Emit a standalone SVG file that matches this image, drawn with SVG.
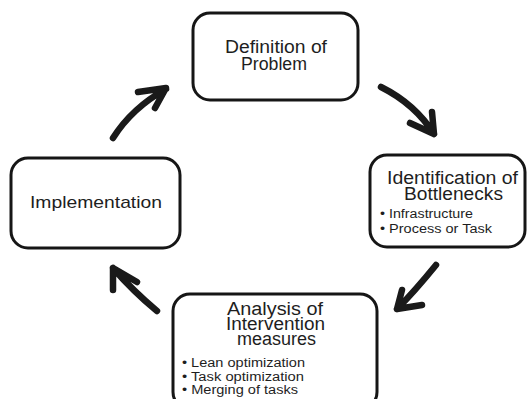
<svg xmlns="http://www.w3.org/2000/svg" width="528" height="399" viewBox="0 0 528 399">
<style>
.box{fill:#fff;stroke:#161616;stroke-width:3}
.t{font-family:"Liberation Sans",Arial,sans-serif;fill:#1e1e1e;text-anchor:middle;font-size:18px}
.b{font-family:"Liberation Sans",Arial,sans-serif;fill:#1e1e1e;font-size:12.5px}
.arr{fill:none;stroke:#1a1a1a;stroke-width:6.5;stroke-linecap:round;stroke-linejoin:round}
</style>
<rect width="528" height="399" fill="#fff"/>
<g id="connectors">
<path class="arr" d="M113,138 Q132,108 166,89 M138,92 L166,88 L155,108"/>
<path class="arr" d="M381,87 Q415,104 434,134 M410,123 L434,134 L432,112"/>
<path class="arr" d="M436,265 Q414,292 397,309 M402,290 L397,309 L422,305"/>
<path class="arr" d="M157,311 Q133,291 113,268 M113,290 L113,268 L137,282"/>
</g>
<g id="definition">
<rect class="box" x="193" y="13" width="165" height="87" rx="17"/>
<text class="t" x="276" y="53" textLength="102" lengthAdjust="spacingAndGlyphs">Definition of</text>
<text class="t" x="274" y="70" textLength="66" lengthAdjust="spacingAndGlyphs">Problem</text>
</g>
<g id="identification">
<rect class="box" x="370" y="155" width="155" height="92" rx="17"/>
<text class="t" x="452.5" y="184" textLength="131" lengthAdjust="spacingAndGlyphs">Identification of</text>
<text class="t" x="453.5" y="200" textLength="99" lengthAdjust="spacingAndGlyphs">Bottlenecks</text>
<text class="b" x="380" y="218" textLength="93" lengthAdjust="spacingAndGlyphs">• Infrastructure</text>
<text class="b" x="380" y="233" textLength="112" lengthAdjust="spacingAndGlyphs">• Process or Task</text>
</g>
<g id="analysis">
<rect class="box" x="173" y="294" width="204" height="115" rx="17"/>
<text class="t" x="275" y="315" textLength="96" lengthAdjust="spacingAndGlyphs">Analysis of</text>
<text class="t" x="275.5" y="330" textLength="99" lengthAdjust="spacingAndGlyphs">Intervention</text>
<text class="t" x="276.5" y="345" textLength="79" lengthAdjust="spacingAndGlyphs">measures</text>
<text class="b" x="182" y="367" textLength="123" lengthAdjust="spacingAndGlyphs">• Lean optimization</text>
<text class="b" x="182" y="381" textLength="122" lengthAdjust="spacingAndGlyphs">• Task optimization</text>
<text class="b" x="182" y="394" textLength="116" lengthAdjust="spacingAndGlyphs">• Merging of tasks</text>
</g>
<g id="implementation">
<rect class="box" x="11" y="158" width="169" height="90" rx="17"/>
<text class="t" style="font-size:17px" x="96" y="208" textLength="132" lengthAdjust="spacingAndGlyphs">Implementation</text>
</g>
</svg>
